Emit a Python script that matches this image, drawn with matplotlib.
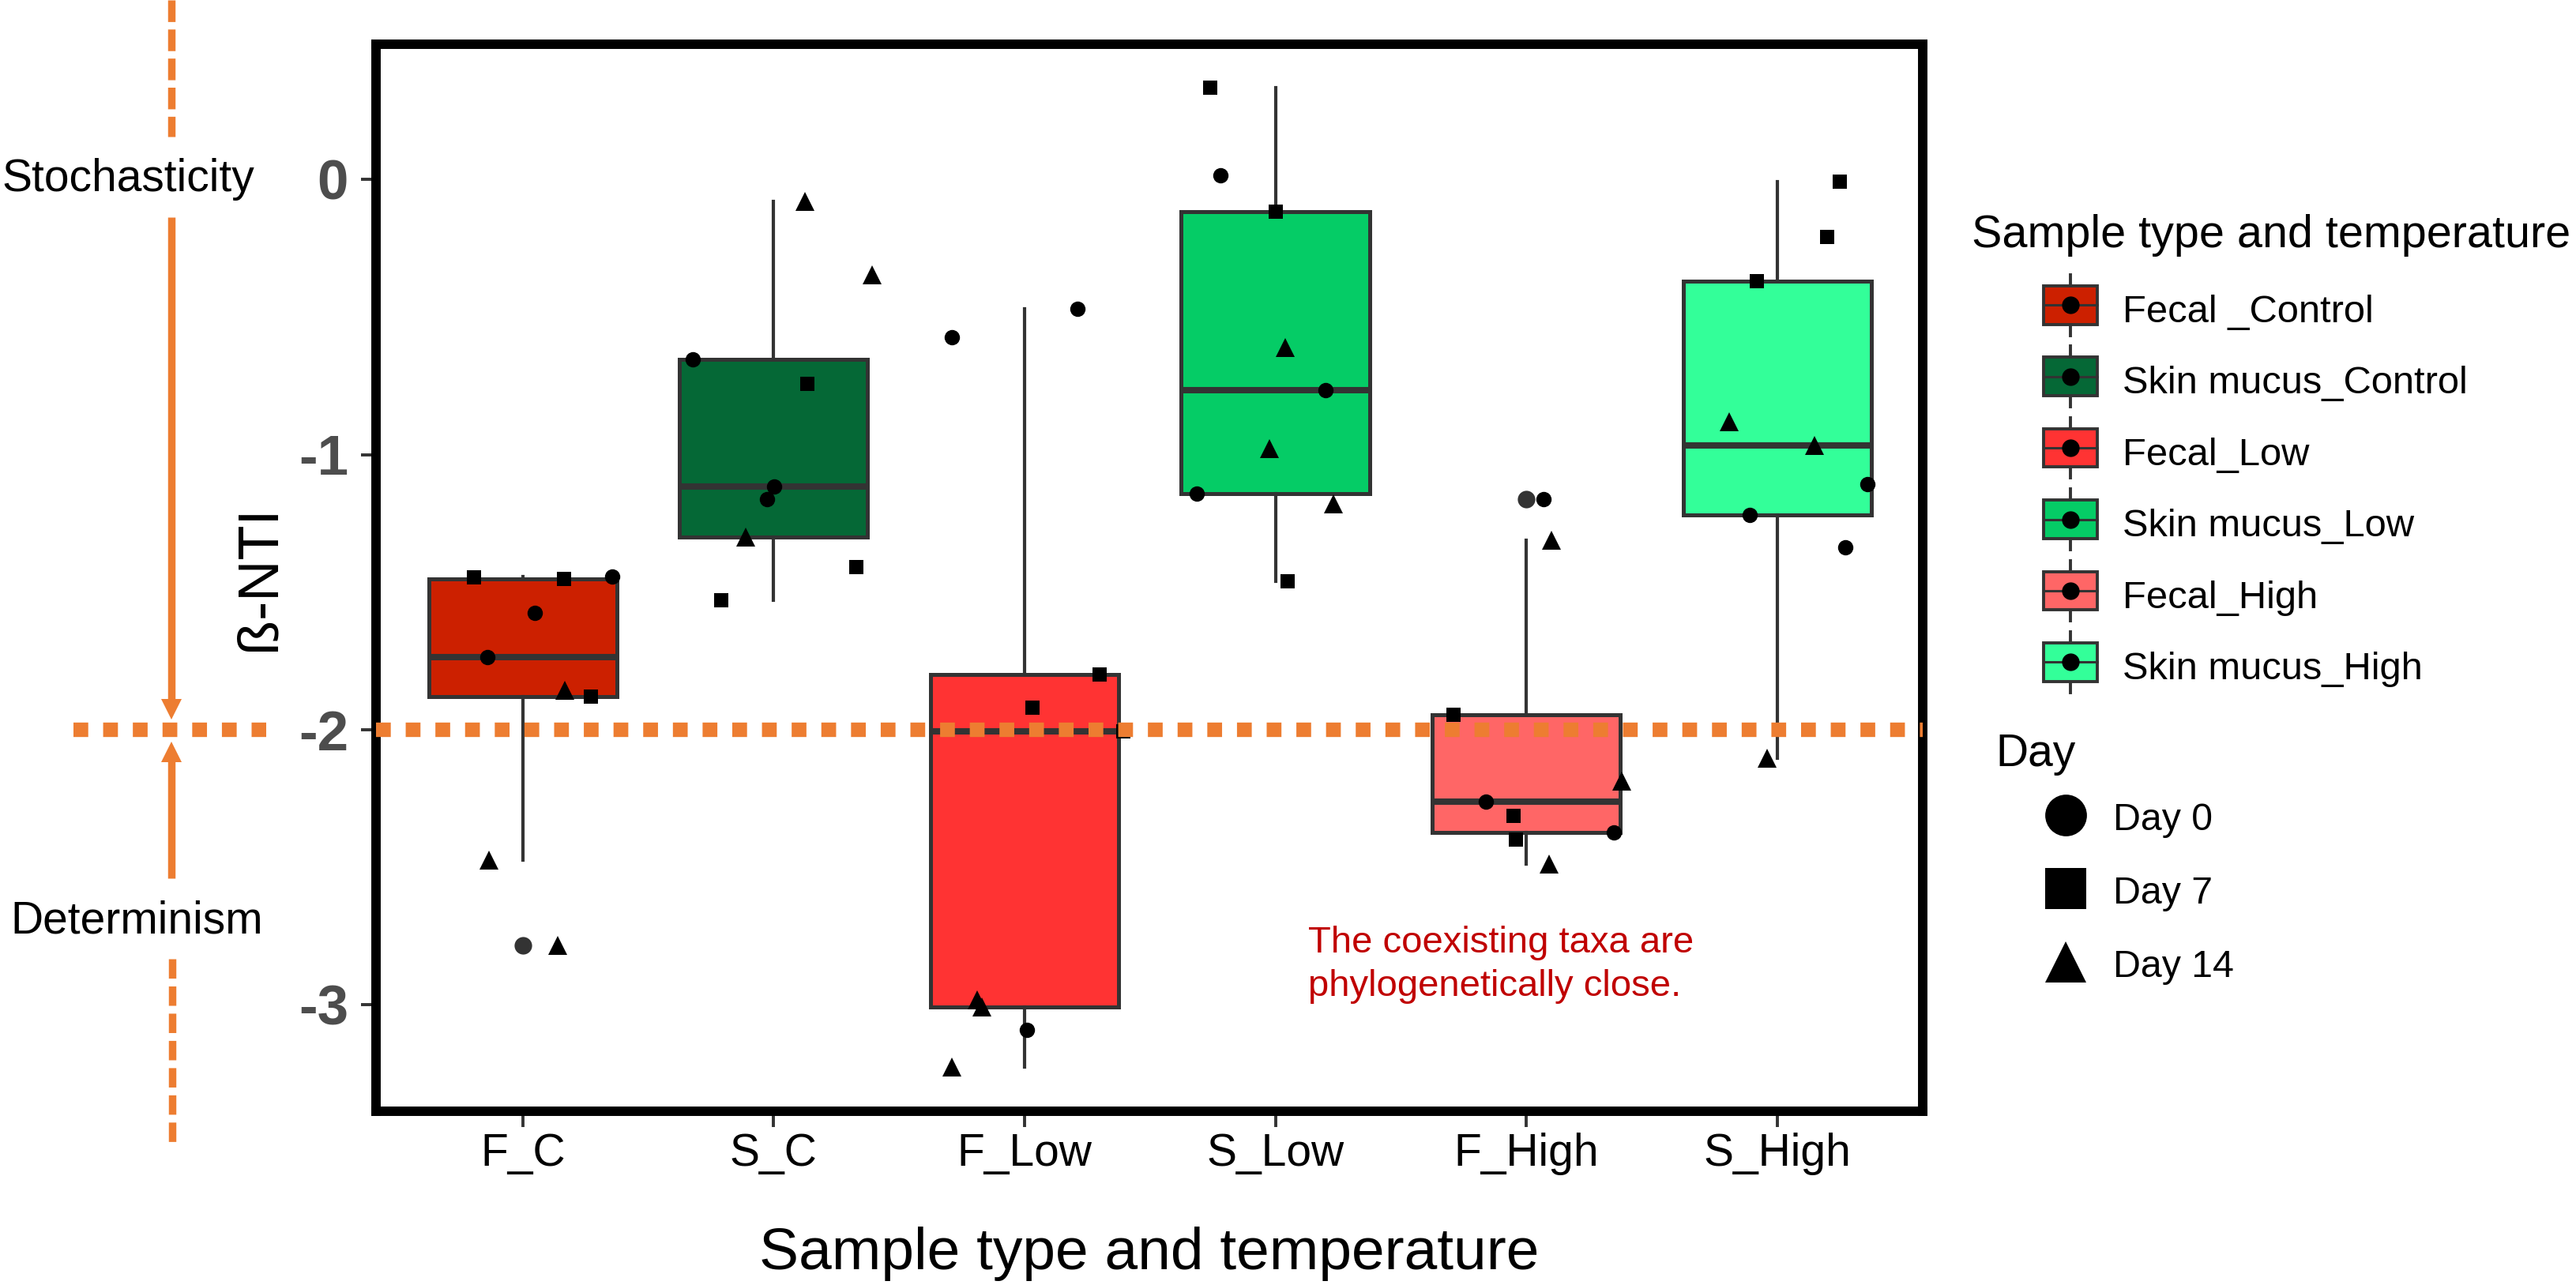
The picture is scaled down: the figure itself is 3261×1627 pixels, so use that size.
import numpy as np
import matplotlib
matplotlib.use("Agg")
import matplotlib.pyplot as plt
from matplotlib.patches import Patch, Rectangle
from matplotlib.lines import Line2D
from matplotlib.legend_handler import HandlerBase
from matplotlib.transforms import blended_transform_factory

plt.rcParams["font.family"] = ["Liberation Sans", "DejaVu Sans"]
plt.rcParams["axes.unicode_minus"] = False

groups = ["F_C", "S_C", "F_Low", "S_Low", "F_High", "S_High"]
group_names = ["Fecal _Control", "Skin mucus_Control", "Fecal_Low",
               "Skin mucus_Low", "Fecal_High", "Skin mucus_High"]
group_colors = ["#CC2000", "#056836", "#FF3333", "#05CC66", "#FF6666", "#33FF99"]

days = ["Day 0", "Day 7", "Day 14"]
day_markers = ["o", "s", "^"]

# beta-NTI values per group, one list per sampling day
day0 = [[-1.444, -1.576, -1.737], [-0.654, -1.117, -1.162], [-0.471, -0.574, -3.09],
        [0.016, -0.766, -1.143], [-1.162, -2.26, -2.374], [-1.107, -1.218, -1.338]]
day7 = [[-1.447, -1.451, -1.878], [-0.743, -1.41, -1.528], [-1.798, -1.92, -2.006],
        [0.332, -0.116, -1.459], [-1.946, -2.312, -2.40], [-0.007, -0.21, -0.371]]
day14 = [[-1.856, -2.472, -2.784], [-0.08, -0.346, -1.30], [-2.98, -3.007, -3.226],
         [-0.61, -0.977, -1.18], [-1.31, -2.186, -2.488], [-0.88, -0.967, -2.104]]

# horizontal jitter of every point
jit0 = [[0.356, 0.049, -0.142], [-0.323, 0.003, -0.025], [0.21, -0.29, 0.01],
        [-0.22, 0.20, -0.315], [0.07, -0.16, 0.35], [0.36, -0.11, 0.27]]
jit7 = [[-0.194, 0.163, 0.27], [0.134, 0.33, -0.21], [0.30, 0.03, 0.394],
        [-0.26, 0.0, 0.05], [-0.29, -0.05, -0.04], [0.25, 0.20, -0.08]]
jit14 = [[0.167, -0.135, 0.14], [0.126, 0.392, -0.112], [-0.19, -0.17, -0.29],
         [0.04, -0.025, 0.23], [0.10, 0.38, 0.09], [-0.19, 0.15, -0.04]]

orange = "#ED7D31"
grey = "#333333"
W, H = 3261, 1627


class BoxKey(HandlerBase):
    # little boxplot glyph like the ggplot legend key
    def create_artists(self, legend, orig_handle, xdescent, ydescent,
                       width, height, fontsize, trans):
        x0 = -xdescent
        xm = x0 + width / 2
        cy = 0.36 * fontsize + 1.5
        bh = 17.5
        wh = 13.8
        return [
            Line2D([xm, xm], [cy - wh, cy + wh], color=grey, lw=1.4, transform=trans),
            Rectangle((x0, cy - bh / 2), width, bh, facecolor=orig_handle.get_facecolor(),
                      edgecolor=grey, lw=1.4, transform=trans),
            Line2D([x0, x0 + width], [cy, cy], color=grey, lw=1.1, transform=trans),
            Line2D([xm], [cy], marker="o", ms=8, color="black", mew=0, transform=trans),
        ]


fig = plt.figure(figsize=(W / 200, H / 200), dpi=200)
ax = fig.add_axes([476 / W, 1 - 1407 / H, (2434 - 476) / W, (1407 - 56) / H])

pos = np.arange(1, len(groups) + 1)
vals = [a + b + c for a, b, c in zip(day0, day7, day14)]

bp = ax.boxplot(vals, positions=pos, widths=0.75, patch_artist=True, showcaps=False,
                whis=1.5, zorder=2,
                boxprops=dict(edgecolor=grey, linewidth=1.8),
                whiskerprops=dict(color=grey, linewidth=1.5),
                medianprops=dict(color=grey, linewidth=2.9),
                flierprops=dict(marker="o", markerfacecolor=grey, markeredgecolor="none",
                                markersize=8))
for patch, c in zip(bp["boxes"], group_colors):
    patch.set_facecolor(c)

sizes = {"o": 7, "s": 6.5, "^": 8.5}
for day_vals, day_jit, m in zip([day0, day7, day14], [jit0, jit7, jit14], day_markers):
    for gi in range(len(groups)):
        ax.plot(pos[gi] + np.array(day_jit[gi]), day_vals[gi], ls="none", marker=m,
                ms=sizes[m], color="black", mew=0, zorder=3)

# threshold beta-NTI = -2
ax.axhline(-2, color=orange, lw=6.6, ls=(0, (1.02, 1.03)), dash_capstyle="butt", zorder=5)

ax.set_xlim(0.415, 6.58)
ax.set_ylim(-3.386, 0.491)
ax.set_xticks(pos, groups)
ax.set_yticks([0, -1, -2, -3], ["0", "-1", "-2", "-3"], fontweight="bold")
ax.tick_params(axis="y", length=6.8, width=1.4, color=grey, pad=5.8,
               labelsize=25.5, labelcolor="#4D4D4D")
ax.tick_params(axis="x", length=7.2, width=1.4, color=grey, pad=2.5,
               labelsize=20.5, labelcolor="black")
for sp in ax.spines.values():
    sp.set_linewidth(4.3)
    sp.set_color("black")

ax.set_ylabel("ß-NTI", fontsize=26)
ax.yaxis.set_label_coords(-0.058, 0.5)
ax.set_xlabel("Sample type and temperature", fontsize=27)
ax.xaxis.set_label_coords(0.5, -0.108)

ax.text(4.13, -2.809, "The coexisting taxa are", color="#C00000", fontsize=17, va="baseline")
ax.text(4.13, -2.967, "phylogenetically close.", color="#C00000", fontsize=17, va="baseline")

# overlay in pixel units for the side annotations and legends
over = fig.add_axes([0, 0, 1, 1])
over.set_autoscale_on(False)
over.set_xlim(0, W)
over.set_ylim(H, 0)
over.axis("off")
over.patch.set_visible(False)

trans = blended_transform_factory(over.transData, ax.transData)
over.plot([93, 337], [-2, -2], transform=trans, color=orange, lw=6.6,
          ls=(0, (1.02, 1.03)), dash_capstyle="butt")

over.plot([217, 217], [0, 173], color=orange, lw=3.4, ls=(0, (2.9, 1.0)))
over.plot([217, 217], [275, 897], color=orange, lw=3.4, solid_capstyle="butt")
over.plot([217], [897.5], marker="v", ms=9.7, color=orange, mew=0)
over.plot([217, 217], [951.5, 1112], color=orange, lw=3.4, solid_capstyle="butt")
over.plot([217], [951.5], marker="^", ms=9.7, color=orange, mew=0)
over.plot([218, 218], [1214, 1446], color=orange, lw=3.4, ls=(0, (2.6, 1.05)))

over.text(2, 242, "Stochasticity", fontsize=20.5, va="baseline")
over.text(13, 1182, "Determinism", fontsize=20.5, va="baseline")

over.text(2496, 313, "Sample type and temperature", fontsize=20.7, va="baseline")
leg1 = over.legend(handles=[Patch(facecolor=c) for c in group_colors], labels=group_names,
                   handler_map={Patch: BoxKey()}, loc="upper left",
                   bbox_to_anchor=(2587, 365), bbox_transform=over.transData,
                   frameon=False, borderpad=0, borderaxespad=0, fontsize=17.6,
                   handlelength=1.39, handleheight=1.3, labelspacing=0.76,
                   handletextpad=0.654)
over.add_artist(leg1)

over.text(2526, 970, "Day", fontsize=20.5, va="baseline")
over.legend(handles=[Line2D([], [], ls="none", marker=m, color="black", mew=0, ms=19)
                     for m in day_markers], labels=days, loc="upper left",
            bbox_to_anchor=(2591, 1013), bbox_transform=over.transData,
            frameon=False, borderpad=0, borderaxespad=0, fontsize=17.4,
            handlelength=1.0, handleheight=1.0, labelspacing=0.93, handletextpad=0.745)

fig.savefig("out.png", dpi=200)
